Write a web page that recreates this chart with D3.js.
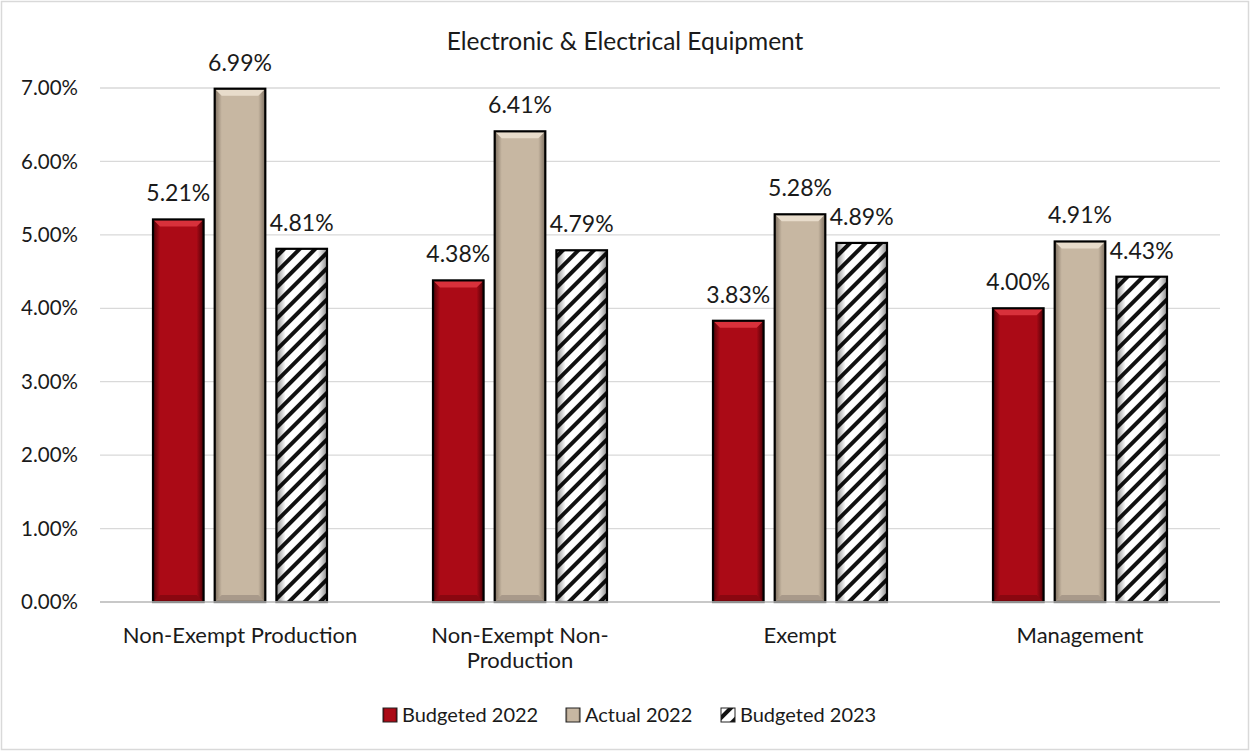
<!DOCTYPE html>
<html>
<head>
<meta charset="utf-8">
<script src="https://cdn.jsdelivr.net/npm/d3@7"></script>
<style>
  body { margin: 0; background: #fff; }
  svg text { font-family: Lato, "Open Sans", sans-serif; fill: #1a1a1a; }
</style>
</head>
<body>
<div id="chart"></div>
<script>
// chart data
const categories = ["Non-Exempt Production", "Non-Exempt Non-Production", "Exempt", "Management"];
const seriesNames = ["Budgeted 2022", "Actual 2022", "Budgeted 2023"];
const budgeted2022 = [5.21, 4.38, 3.83, 4.00];
const actual2022 = [6.99, 6.41, 5.28, 4.91];
const budgeted2023 = [4.81, 4.79, 4.89, 4.43];
const yTicks = [0, 1, 2, 3, 4, 5, 6, 7];
const chartTitle = "Electronic & Electrical Equipment";

const seriesValues = [budgeted2022, actual2022, budgeted2023];

const width = 1250, height = 751;
const margin = { top: 88, right: 30, bottom: 149, left: 100 };
const plotW = width - margin.left - margin.right;
const plotH = height - margin.top - margin.bottom;

const svg = d3.select("#chart").append("svg")
  .attr("width", width)
  .attr("height", height);

// outer frame
svg.append("rect")
  .attr("x", 1.5).attr("y", 1.5)
  .attr("width", width - 3).attr("height", height - 3)
  .attr("fill", "#fff").attr("stroke", "#d9d9d9").attr("stroke-width", 1.5);

const defs = svg.append("defs");

// horizontal shading for the beveled bars
function sideGradient(id, edge, mid) {
  const g = defs.append("linearGradient").attr("id", id)
    .attr("x1", "0").attr("x2", "1").attr("y1", "0").attr("y2", "0");
  g.append("stop").attr("offset", "0%").attr("stop-color", edge);
  g.append("stop").attr("offset", "14%").attr("stop-color", mid);
  g.append("stop").attr("offset", "86%").attr("stop-color", mid);
  g.append("stop").attr("offset", "100%").attr("stop-color", edge);
}
sideGradient("gradRed", "#4a0006", "#ab0a16");
sideGradient("gradTan", "#7d6f60", "#c7b7a2");

// hatch for Budgeted 2023
const hatch = defs.append("pattern")
  .attr("id", "hatch")
  .attr("patternUnits", "userSpaceOnUse")
  .attr("width", 11).attr("height", 11)
  .attr("patternTransform", "rotate(45)");
hatch.append("rect").attr("width", 11).attr("height", 11).attr("fill", "#fff");
hatch.append("rect").attr("x", 0).attr("width", 4).attr("height", 11).attr("fill", "#111");

const hatchShade = defs.append("linearGradient").attr("id", "hatchShade")
  .attr("x1", "0").attr("x2", "1").attr("y1", "0").attr("y2", "0");
hatchShade.append("stop").attr("offset", "0%").attr("stop-color", "#000").attr("stop-opacity", 0.45);
hatchShade.append("stop").attr("offset", "18%").attr("stop-color", "#000").attr("stop-opacity", 0);
hatchShade.append("stop").attr("offset", "82%").attr("stop-color", "#000").attr("stop-opacity", 0);
hatchShade.append("stop").attr("offset", "100%").attr("stop-color", "#000").attr("stop-opacity", 0.45);

const fills = ["url(#gradRed)", "url(#gradTan)", "url(#hatch)"];
const bevelTop = ["#d8313b", "#e8dccb", null];
const bevelBottom = ["#8a0710", "#a8998a", null];

const g = svg.append("g").attr("transform", `translate(${margin.left},${margin.top})`);

const y = d3.scaleLinear().domain([0, 7]).range([plotH, 0]);
const x0 = d3.scaleBand().domain(categories).range([0, plotW]).paddingInner(0).paddingOuter(0);
const x1 = d3.scaleBand().domain(seriesNames).range([53, x0.bandwidth() - 53]).paddingInner(0.18).paddingOuter(0);

// grid lines
g.append("g").selectAll("line").data(yTicks).join("line")
  .attr("x1", 0).attr("x2", plotW)
  .attr("y1", d => y(d)).attr("y2", d => y(d))
  .attr("stroke", "#d9d9d9").attr("stroke-width", 1.3);

// y axis labels
g.append("g").selectAll("text").data(yTicks).join("text")
  .attr("x", -22).attr("y", d => y(d))
  .attr("dy", "0.35em")
  .attr("text-anchor", "end")
  .style("font-size", "20.5px")
  .text(d => d3.format(".2f")(d) + "%");

// title
svg.append("text")
  .attr("x", width / 2).attr("y", 50)
  .attr("text-anchor", "middle")
  .style("font-size", "24.5px")
  .text(chartTitle);

// bars
const bw = x1.bandwidth();
const bev = 7;
categories.forEach((cat, ci) => {
  seriesNames.forEach((s, si) => {
    const v = seriesValues[si][ci];
    const bx = x0(cat) + x1(s);
    const by = y(v);
    const bh = y(0) - by;
    const bar = g.append("g");
    bar.append("rect")
      .attr("x", bx).attr("y", by).attr("width", bw).attr("height", bh)
      .attr("fill", fills[si]);
    if (si === 2) {
      bar.append("rect")
        .attr("x", bx).attr("y", by).attr("width", bw).attr("height", bh)
        .attr("fill", "url(#hatchShade)");
    } else {
      bar.append("polygon")
        .attr("points", [[bx, by], [bx + bw, by], [bx + bw - bev, by + bev], [bx + bev, by + bev]].join(" "))
        .attr("fill", bevelTop[si]);
      bar.append("polygon")
        .attr("points", [[bx, y(0)], [bx + bw, y(0)], [bx + bw - bev, y(0) - bev], [bx + bev, y(0) - bev]].join(" "))
        .attr("fill", bevelBottom[si]);
    }
    bar.append("rect")
      .attr("x", bx).attr("y", by).attr("width", bw).attr("height", bh)
      .attr("fill", "none").attr("stroke", "#000").attr("stroke-width", 2.2);
    // data label
    g.append("text")
      .attr("x", bx + bw / 2).attr("y", by - 18)
      .attr("text-anchor", "middle")
      .style("font-size", "23px")
      .text(d3.format(".2f")(v) + "%");
  });
});

// baseline
g.append("line")
  .attr("x1", 0).attr("x2", plotW)
  .attr("y1", y(0)).attr("y2", y(0))
  .attr("stroke", "#bfbfbf").attr("stroke-width", 1.5);

// category labels (wrap like Excel)
const catLines = {
  "Non-Exempt Production": ["Non-Exempt Production"],
  "Non-Exempt Non-Production": ["Non-Exempt Non-", "Production"],
  "Exempt": ["Exempt"],
  "Management": ["Management"]
};
categories.forEach(cat => {
  const t = g.append("text")
    .attr("x", x0(cat) + x0.bandwidth() / 2)
    .attr("y", y(0) + 41)
    .attr("text-anchor", "middle")
    .style("font-size", "22px");
  catLines[cat].forEach((line, i) => {
    t.append("tspan")
      .attr("x", x0(cat) + x0.bandwidth() / 2)
      .attr("dy", i === 0 ? 0 : 25)
      .text(line);
  });
});

// legend
const legendFills = ["url(#gradRed)", "url(#gradTan)", "url(#hatch)"];
const legendX = [383, 566, 721];
const legend = svg.append("g").attr("transform", "translate(0,715)");
seriesNames.forEach((s, i) => {
  const lg = legend.append("g").attr("transform", `translate(${legendX[i]},0)`);
  lg.append("rect")
    .attr("x", 0).attr("y", -7).attr("width", 14).attr("height", 14)
    .attr("fill", legendFills[i]).attr("stroke", "#222").attr("stroke-width", 1);
  lg.append("text")
    .attr("x", 19).attr("y", 0).attr("dy", "0.35em")
    .style("font-size", "20px")
    .text(s);
});
</script>
</body>
</html>
